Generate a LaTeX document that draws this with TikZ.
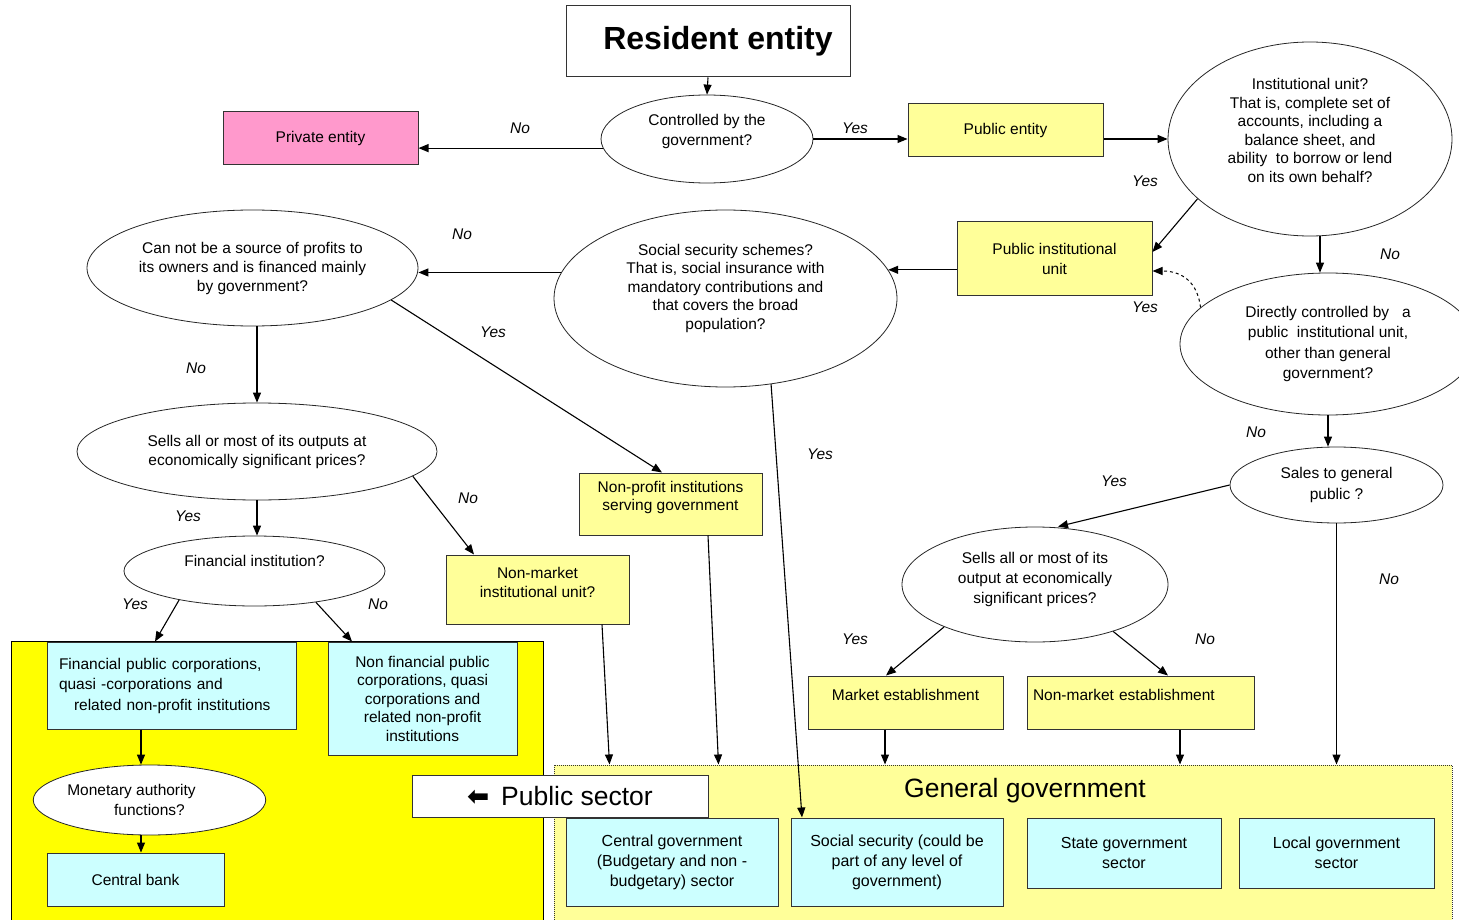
\documentclass[tikz,border=0pt]{standalone}
\usepackage{fontspec}
\setmainfont{Liberation Sans}
\newfontfamily\arrowfont{DejaVu Sans}
\usetikzlibrary{shapes.geometric,arrows.meta}
\definecolor{pinkfill}{HTML}{FF99CC}
\definecolor{paleyellow}{HTML}{FFFF99}
\definecolor{paleblue}{HTML}{CCFFFF}
\definecolor{brightyellow}{HTML}{FFFF00}

\begin{document}
\begin{tikzpicture}[x=1pt,y=-1pt,
  every node/.style={font=\fontsize{15.5}{19}\selectfont, align=center, inner sep=0pt},
  question/.style={ellipse, draw=black!85, fill=white, line width=0.8pt},
  box/.style={rectangle, draw=black!80, line width=1pt},
  region/.style={rectangle, line width=1pt},
  flow/.style={-{Triangle[length=10pt,width=8pt]}, line width=1.1pt},
  answer/.style={font=\fontsize{15.5}{19}\selectfont\itshape},
  bigtext/.style={font=\fontsize{26.5}{30}\selectfont}]
  \useasboundingbox (0,0) rectangle (1459,920);

  \node[region, fill=brightyellow, draw=black, minimum width=532pt, minimum height=290pt] (pubreg) at (277,786) {};
  \node[region, fill=paleyellow, draw=black!80, densely dotted, minimum width=898pt, minimum height=170pt] (ggreg) at (1003,850) {};
  \node[bigtext] (ggtitle) at (1025,791) {General government};
  \node[box, fill=white, minimum width=296pt, minimum height=42pt, bigtext] (pubsec) at (560,796) {{\arrowfont\bfseries ⬅}\ \,Public sector};

  \node[box, minimum width=284pt, minimum height=71pt, font=\fontsize{32}{36}\selectfont\bfseries] (res) at (708,41.5) {\hspace*{20pt}Resident entity};
  \node[question, minimum width=212pt, minimum height=88pt] (ctrl) at (707,139) {Controlled by the\\[1pt]government?\\[-7pt]\strut};
  \node[box, fill=pinkfill, minimum width=195pt, minimum height=53pt] (priv) at (320.5,138.5) {Private entity};
  \node[box, fill=paleyellow, minimum width=195pt, minimum height=53pt] (pubent) at (1005.5,130.5) {Public entity};
  \node[question, minimum width=284pt, minimum height=194pt, font=\fontsize{15.5}{18.5}\selectfont] (inst) at (1310,139) {Institutional unit?\\That is, complete set of\\accounts, including a\\balance sheet, and\\ability~ to borrow or lend\\on its own behalf?\\[-7pt]\strut};
  \node[box, fill=paleyellow, minimum width=195pt, minimum height=73pt] (pinst) at (1054.5,258.5) {Public institutional\\[1pt]unit};
  \node[question, minimum width=296pt, minimum height=142pt, font=\fontsize{15.5}{20.3}\selectfont] (dir) at (1328,344) {Directly controlled by~~ a\\public~ institutional unit,\\other than general\\government?};
  \node[question, minimum width=213pt, minimum height=76pt, font=\fontsize{15.5}{21}\selectfont] (sales) at (1336.5,485) {Sales to general\\public ?};
  \node[question, minimum width=266pt, minimum height=115pt, font=\fontsize{15.5}{20}\selectfont] (sells2) at (1035,584.5) {Sells all or most of its\\output at economically\\significant prices?\\[-12pt]\strut};
  \node[box, fill=paleyellow, minimum width=195pt, minimum height=53pt] (mkt) at (905.5,702.5) {Market establishment\\[-10pt]\strut};
  \node[box, fill=paleyellow, minimum width=227pt, minimum height=53pt, text width=215pt, align=left] (nmkt) at (1140.5,702.5) {Non-market establishment\\[-10pt]\strut};
  \node[question, minimum width=343pt, minimum height=177pt, font=\fontsize{15.5}{18.5}\selectfont] (soc) at (725.5,298.5) {Social security schemes?\\That is, social insurance with\\mandatory contributions and\\that covers the broad\\population?\\\strut};
  \node[question, minimum width=331pt, minimum height=116pt] (cannot) at (252.5,268) {Can not be a source of profits to\\its owners and is financed mainly\\by government?};
  \node[question, minimum width=360pt, minimum height=97pt] (sells1) at (257,451.5) {Sells all or most of its outputs at\\economically significant prices?};
  \node[question, minimum width=261pt, minimum height=70pt] (fin) at (254.5,571) {Financial institution?\\[-4pt]\strut};
  \node[box, fill=paleyellow, minimum width=183pt, minimum height=62pt, font=\fontsize{15.5}{18.5}\selectfont] (npisg) at (670.5,504) {Non-profit institutions\\serving government\\[-8pt]\strut};
  \node[box, fill=paleyellow, minimum width=183pt, minimum height=69pt] (nminst) at (537.5,589.5) {Non-market\\institutional unit?\\[-10pt]\strut};

  \node[box, fill=paleblue, minimum width=249pt, minimum height=87pt, text width=225pt, align=left] (fpc) at (171.5,685.5) {Financial public corporations,\\[1.5pt]quasi -corporations and\\[1.5pt]\hspace*{15pt}related non-profit institutions};
  \node[box, fill=paleblue, minimum width=189pt, minimum height=113pt, font=\fontsize{15.5}{18.5}\selectfont] (nfpc) at (422.5,698.5) {Non financial public\\corporations, quasi\\corporations and\\related non-profit\\institutions};
  \node[question, minimum width=231pt, minimum height=70pt] (mon) at (149.5,800) {Monetary authority\hspace*{36pt}\\[1.5pt]functions?};
  \node[box, fill=paleblue, minimum width=177pt, minimum height=53pt] (cb) at (135.5,879.5) {Central bank};

  \node[box, fill=paleblue, minimum width=212pt, minimum height=88pt, font=\fontsize{16}{20}\selectfont] (cg) at (672,862) {Central government\\(Budgetary and non -\\budgetary) sector};
  \node[box, fill=paleblue, minimum width=212pt, minimum height=88pt, font=\fontsize{16}{20}\selectfont] (ssb) at (897,862) {Social security (could be\\part of any level of\\government)};
  \node[box, fill=paleblue, minimum width=194pt, minimum height=70pt, font=\fontsize{16}{20}\selectfont] (sg) at (1124,853) {State government\\sector};
  \node[box, fill=paleblue, minimum width=195pt, minimum height=70pt, font=\fontsize{16}{20}\selectfont] (lg) at (1336.5,853) {Local government\\sector};

  \draw[flow] (res.south) -- (ctrl.north);
  \draw[flow] (ctrl.185) -- (ctrl.185 -| priv.east);
  \draw[flow] (ctrl.east) -- (ctrl.east -| pubent.west);
  \draw[flow] (inst.west -| pubent.east) -- (inst.west);
  \draw[flow] (inst.208) -- ([yshift=6.5pt]pinst.east);
  \draw[flow] ([xshift=10pt]inst.south) -- ([xshift=10pt]inst.south |- dir.north);
  \draw[flow, dashed, line width=1pt] (dir.164) .. controls +(-3,-25) and +(30,0) .. ([yshift=-12.5pt]pinst.east);
  \draw[flow] (soc.10.7 -| pinst.west) -- (soc.10.7);
  \draw[flow] (soc.171.2) -- (soc.171.2 -| cannot.east);
  \draw[flow] (sells1.north |- cannot.south) -- (sells1.north);
  \draw[flow] (cannot.347.1) -- ([xshift=-8.5pt]npisg.north);
  \draw[flow] (sells1.south) -- (sells1.south |- fin.north);
  \draw[flow] (sells1.351.8) -- ([xshift=-63.5pt]nminst.north);
  \draw[flow] (fin.201.9) -- ([xshift=-16.5pt]fpc.north);
  \draw[flow] (fin.333.3) -- ([xshift=-70.5pt]nfpc.north);
  \draw[flow] ([xshift=-30.5pt]fpc.south) -- ([xshift=-30.5pt]fpc.south |- mon.north);
  \draw[flow] ([xshift=-8.5pt]mon.south) -- ([xshift=-8.5pt]mon.south |- cb.north);
  \draw[flow] ([xshift=64.5pt]nminst.south) -- ([xshift=56pt]ggreg.north west);
  \draw[flow] ([xshift=37.5pt]npisg.south) -- ([xshift=165pt]ggreg.north west);
  \draw[flow] (soc.298.1) -- ([xshift=-95pt]ssb.north);
  \draw[flow] ([xshift=-20.5pt]mkt.south) -- ([xshift=-20.5pt]mkt.south |- ggreg.north);
  \draw[flow] ([xshift=39.5pt]nmkt.south) -- ([xshift=39.5pt]nmkt.south |- ggreg.north);
  \draw[flow] (sales.south) -- (sales.south |- ggreg.north);
  \draw[flow] (dir.south) -- (dir.south |- sales.north);
  \draw[flow] (sales.west) -- ([xshift=23pt]sells2.north);
  \draw[flow] (sells2.205.3) -- ([xshift=-19.5pt]mkt.north);
  \draw[flow] (sells2.329.3) -- ([xshift=27.5pt]nmkt.north);

  \node[answer] (no1) at (520,128) {No};
  \node[answer] (yes1) at (855,128) {Yes};
  \node[answer] (yes2) at (1145,181) {Yes};
  \node[answer] (no2) at (1390,254) {No};
  \node[answer] (yes3) at (1145,307) {Yes};
  \node[answer] (no3) at (462,234) {No};
  \node[answer] (no4) at (196,368) {No};
  \node[answer] (yes4) at (493,332) {Yes};
  \node[answer] (yes5) at (820,454) {Yes};
  \node[answer] (yes6) at (188,516) {Yes};
  \node[answer] (no5) at (468,498) {No};
  \node[answer] (yes7) at (135,604) {Yes};
  \node[answer] (no6) at (378,604) {No};
  \node[answer] (no7) at (1256,432) {No};
  \node[answer] (yes8) at (1114,481) {Yes};
  \node[answer] (no8) at (1389,579) {No};
  \node[answer] (yes9) at (855,639) {Yes};
  \node[answer] (no9) at (1205,639) {No};
\end{tikzpicture}
\end{document}
